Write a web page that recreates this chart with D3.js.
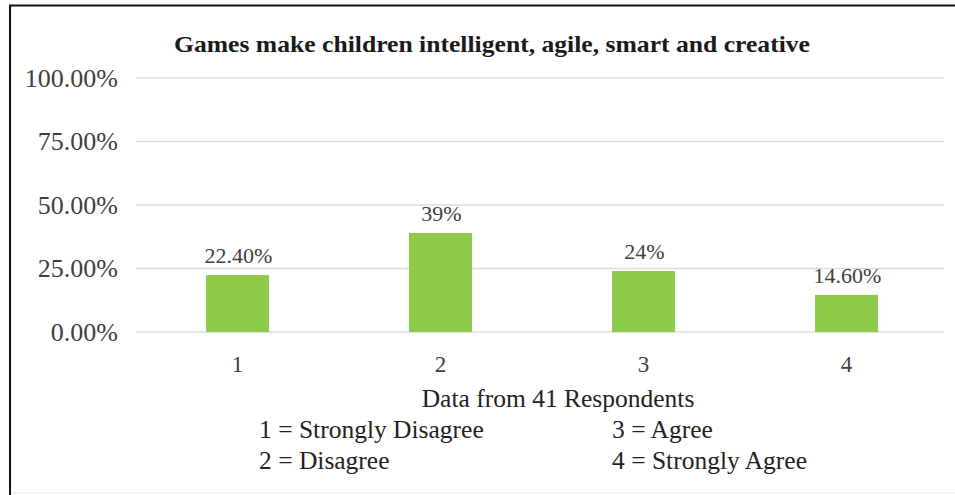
<!DOCTYPE html>
<html>
<head>
<meta charset="utf-8">
<script src="https://cdn.jsdelivr.net/npm/d3@7"></script>
</head>
<body style="margin:0;background:#fff">
<div id="chart"></div>
<script>
var W = 955, H = 495;
var FONT = "Liberation Serif";

var categories = ["1", "2", "3", "4"];
var values = [0.224, 0.39, 0.24, 0.146];
var valueLabels = ["22.40%", "39%", "24%", "14.60%"];
var yTicks = [0, 0.25, 0.5, 0.75, 1];
var legendLeft = ["1 = Strongly Disagree", "2 = Disagree"];
var legendRight = ["3 = Agree", "4 = Strongly Agree"];

var svg = d3.select("#chart")
    .append("svg")
    .attr("width", W)
    .attr("height", H);

svg.append("rect")
    .attr("width", W).attr("height", H)
    .attr("fill", "#fff");

// frame (only top and left edges show)
svg.append("line").attr("x1", 9).attr("x2", W).attr("y1", 5.5).attr("y2", 5.5)
    .attr("stroke", "#111").attr("stroke-width", 2);
svg.append("line").attr("x1", 10).attr("x2", 10).attr("y1", 5).attr("y2", H)
    .attr("stroke", "#111").attr("stroke-width", 2);
svg.append("line").attr("x1", 11).attr("x2", W).attr("y1", 493).attr("y2", 493)
    .attr("stroke", "#e8e8e8").attr("stroke-width", 1);

var x = d3.scaleBand()
    .domain(categories)
    .range([136, 948])
    .paddingInner(0.69)
    .paddingOuter(0.345);

var y = d3.scaleLinear()
    .domain([0, 1])
    .range([332, 78]);

// gridlines
svg.append("g")
    .selectAll("line")
    .data(yTicks)
    .join("line")
    .attr("x1", 136)
    .attr("x2", 944)
    .attr("y1", d => y(d))
    .attr("y2", d => y(d))
    .attr("stroke", "#dcdcdc")
    .attr("stroke-width", 1.5);

// y axis labels
var yAxis = d3.axisLeft(y)
    .tickValues(yTicks)
    .tickFormat(d3.format(".2%"))
    .tickSize(0)
    .tickPadding(18);

svg.append("g")
    .attr("transform", "translate(136,0)")
    .call(yAxis)
    .call(g => g.attr("font-family", FONT).select(".domain").remove())
    .selectAll("text")
    .style("font-family", FONT)
    .style("font-size", "26px")
    .attr("fill", "#404040");

// x axis labels
var xAxis = d3.axisBottom(x).tickSize(0).tickPadding(24);

svg.append("g")
    .attr("transform", "translate(0,332)")
    .call(xAxis)
    .call(g => g.attr("font-family", FONT).select(".domain").remove())
    .selectAll("text")
    .style("font-family", FONT)
    .style("font-size", "23px")
    .attr("fill", "#404040");

// bars
svg.append("g")
    .selectAll("rect")
    .data(values)
    .join("rect")
    .attr("x", (d, i) => x(categories[i]))
    .attr("y", d => y(d))
    .attr("width", x.bandwidth())
    .attr("height", d => y(0) - y(d))
    .attr("fill", "#8ccb48");

// value labels
svg.append("g")
    .selectAll("text")
    .data(values)
    .join("text")
    .attr("x", (d, i) => x(categories[i]) + x.bandwidth() / 2 + 1)
    .attr("y", d => y(d) - 12)
    .attr("text-anchor", "middle")
    .style("font-family", FONT)
    .style("font-size", "22px")
    .attr("fill", "#404040")
    .text((d, i) => valueLabels[i]);

// title
svg.append("text")
    .attr("x", 174)
    .attr("y", 52)
    .attr("textLength", 636)
    .attr("lengthAdjust", "spacingAndGlyphs")
    .style("font-family", FONT)
    .style("font-size", "23px")
    .style("font-weight", "bold")
    .attr("fill", "#1a1a1a")
    .text("Games make children intelligent, agile, smart and creative");

// footnote
svg.append("text")
    .attr("x", 558)
    .attr("y", 407)
    .attr("text-anchor", "middle")
    .style("font-family", FONT)
    .style("font-size", "25.5px")
    .attr("fill", "#222")
    .text("Data from 41 Respondents");

svg.append("g")
    .selectAll("text")
    .data(legendLeft)
    .join("text")
    .attr("x", 259)
    .attr("y", (d, i) => 438 + i * 31)
    .style("font-family", FONT)
    .style("font-size", "25.5px")
    .attr("fill", "#222")
    .text(d => d);

svg.append("g")
    .selectAll("text")
    .data(legendRight)
    .join("text")
    .attr("x", 612)
    .attr("y", (d, i) => 438 + i * 31)
    .style("font-family", FONT)
    .style("font-size", "25.5px")
    .attr("fill", "#222")
    .text(d => d);
</script>
</body>
</html>
